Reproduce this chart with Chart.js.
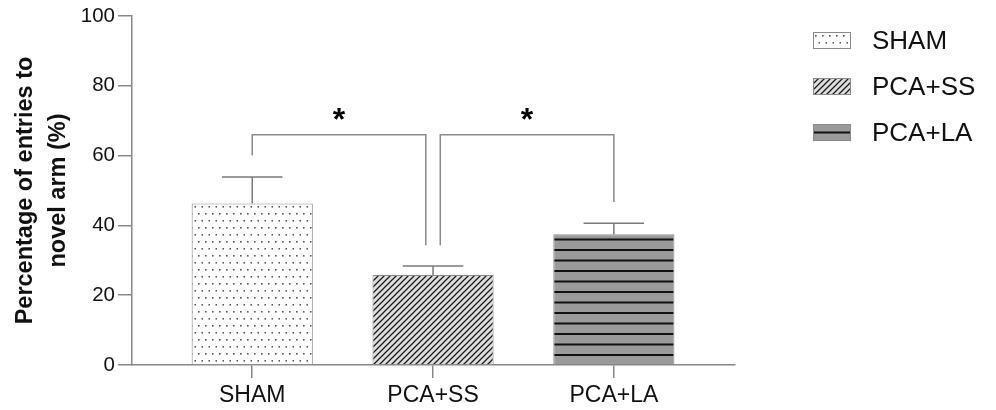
<!DOCTYPE html>
<html lang="en">
<head>
<meta charset="UTF-8">
<title>Percentage of entries to novel arm</title>
<style>
  html, body { margin: 0; padding: 0; background: #fff; }
  #wrap { width: 996px; height: 410px; }
</style>
</head>
<body>
<div id="wrap"><canvas id="chart" width="996" height="410"></canvas></div>
<script src="https://cdn.jsdelivr.net/npm/chart.js"></script>
<script>
  const groups = ['SHAM', 'PCA+SS', 'PCA+LA'];
  const means = [46.3, 25.8, 37.5];
  const sems = [7.6, 2.6, 3.1];
  const yTicks = [0, 20, 40, 60, 80, 100];
  // significance brackets (x in group index, heights in %)
  const brackets = [
    { from: 0, to: 0.96, top: 66, leftEnd: 60, rightEnd: 34.3, label: '*' },
    { from: 1.04, to: 2, top: 66, leftEnd: 34.3, rightEnd: 46.7, label: '*' }
  ];

  const FONT = 'Arial, "Liberation Sans", Helvetica, sans-serif';
  const canvas = document.getElementById('chart');
  const ctx = canvas.getContext('2d');

  function makePattern(kind) {
    const c = document.createElement('canvas');
    const g = c.getContext('2d');
    if (kind === 'dots') {
      c.width = 7; c.height = 14;
      g.fillStyle = '#fff';
      g.fillRect(0, 0, 7, 14);
      g.fillStyle = '#555';
      g.fillRect(2, 3, 1.6, 1.6);
      g.fillRect(5.5, 10, 1.6, 1.6);
    } else if (kind === 'diag') {
      c.width = 6; c.height = 6;
      g.fillStyle = '#dedede';
      g.fillRect(0, 0, 6, 6);
      g.strokeStyle = '#1a1a1a';
      g.lineWidth = 1.25;
      g.beginPath();
      g.moveTo(-1, 7); g.lineTo(7, -1);
      g.moveTo(-1, 1); g.lineTo(1, -1);
      g.moveTo(5, 7); g.lineTo(7, 5);
      g.stroke();
    } else {
      c.width = 4; c.height = 21;
      g.fillStyle = '#9a9a9a';
      g.fillRect(0, 0, 4, 21);
      g.strokeStyle = '#111';
      g.lineWidth = 1.8;
      g.beginPath();
      g.moveTo(0, 8.5); g.lineTo(4, 8.5);
      g.moveTo(0, 19); g.lineTo(4, 19);
      g.stroke();
    }
    return ctx.createPattern(c, 'repeat');
  }

  const fills = [makePattern('dots'), makePattern('diag'), makePattern('lines')];

  const extras = {
    id: 'extras',
    afterDatasetsDraw(chart) {
      const c = chart.ctx;
      const xs = chart.scales.x;
      const ys = chart.scales.y;
      const meta = chart.getDatasetMeta(0);
      c.save();
      // error bars (upper only)
      c.strokeStyle = '#7a7a7a';
      c.lineWidth = 1.5;
      meta.data.forEach((bar, i) => {
        const top = ys.getPixelForValue(means[i] + sems[i]);
        const half = bar.width / 4;
        c.beginPath();
        c.moveTo(bar.x, bar.y);
        c.lineTo(bar.x, top);
        c.moveTo(bar.x - half, top);
        c.lineTo(bar.x + half, top);
        c.stroke();
      });
      // significance brackets
      c.strokeStyle = '#8a8a8a';
      brackets.forEach(b => {
        const x1 = xs.getPixelForValue(b.from);
        const x2 = xs.getPixelForValue(b.to);
        const yt = ys.getPixelForValue(b.top);
        c.beginPath();
        c.moveTo(x1, ys.getPixelForValue(b.leftEnd));
        c.lineTo(x1, yt);
        c.lineTo(x2, yt);
        c.lineTo(x2, ys.getPixelForValue(b.rightEnd));
        c.stroke();
        c.fillStyle = '#000';
        c.font = 'bold 32px ' + FONT;
        c.textAlign = 'center';
        c.textBaseline = 'middle';
        c.fillText(b.label, (x1 + x2) / 2, yt - 13);
      });
      c.restore();
    },
    afterDraw(chart) {
      const c = chart.ctx;
      c.save();
      groups.forEach((name, i) => {
        const bx = 813, by = 32 + i * 46, bw = 38, bh = 17;
        c.save();
        c.translate(bx, by);
        c.fillStyle = fills[i];
        c.fillRect(0, 0, bw, bh);
        c.strokeStyle = '#8a8a8a';
        c.lineWidth = 1;
        c.strokeRect(0.5, 0.5, bw - 1, bh - 1);
        c.restore();
        c.fillStyle = '#111';
        c.font = '26px ' + FONT;
        c.textAlign = 'left';
        c.textBaseline = 'middle';
        c.fillText(name, 872, by + bh / 2 + 1);
      });
      c.restore();
    }
  };

  new Chart(ctx, {
    type: 'bar',
    data: {
      datasets: [{
        data: means.map((m, i) => ({ x: i, y: m })),
        backgroundColor: fills,
        borderColor: '#8a8a8a',
        borderWidth: 1,
        barPercentage: 0.67,
        categoryPercentage: 1
      }]
    },
    options: {
      responsive: false,
      animation: false,
      layout: { padding: { top: 16, right: 261, left: 0, bottom: 0 } },
      plugins: { legend: { display: false }, tooltip: { enabled: false } },
      scales: {
        x: {
          type: 'linear',
          min: -0.665,
          max: 2.67,
          offset: false,
          afterBuildTicks: s => { s.ticks = groups.map((g, i) => ({ value: i })); },
          afterFit: s => { s.height = 45; },
          ticks: {
            callback: v => groups[v],
            autoSkip: false,
            maxRotation: 0,
            padding: 4,
            color: '#111',
            font: { family: FONT, size: 23 }
          },
          grid: { offset: false, drawOnChartArea: false, tickLength: 13, color: '#888', lineWidth: 1.5 },
          border: { color: '#888', width: 1.5 }
        },
        y: {
          min: 0,
          max: 100,
          afterBuildTicks: s => { s.ticks = yTicks.map(v => ({ value: v })); },
          afterFit: s => { s.width = 132; },
          ticks: {
            padding: 3,
            color: '#111',
            font: { family: FONT, size: 20.5 }
          },
          grid: { drawOnChartArea: false, tickLength: 14, color: '#888', lineWidth: 1.5 },
          border: { color: '#888', width: 1.5 },
          title: {
            display: true,
            text: ['Percentage of entries to', 'novel arm (%)'],
            color: '#111',
            font: { family: FONT, size: 23.5, weight: 'bold', lineHeight: 1.4 },
            padding: { top: 9, bottom: 0 }
          }
        }
      }
    },
    plugins: [extras]
  });
</script>
</body>
</html>
